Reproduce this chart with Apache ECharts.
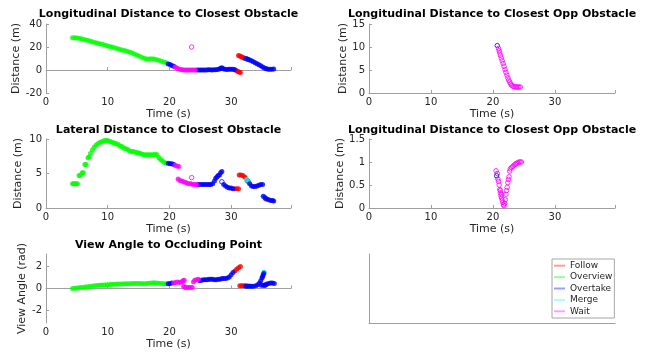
<!DOCTYPE html>
<html><head><meta charset="utf-8">
<script src="https://cdn.jsdelivr.net/npm/echarts@6/dist/echarts.min.js"></script>
<style>html,body{margin:0;padding:0;background:#fff}#c{width:654px;height:356px}</style>
</head><body><div id="c"></div>
<script>
// ---------- labels ----------
const modes = ['Follow', 'Overview', 'Overtake', 'Merge', 'Wait'];
const titles = [
  'Longitudinal Distance to Closest Obstacle',
  'Longitudinal Distance to Closest Opp Obstacle',
  'Lateral Distance to Closest Obstacle',
  'Longitudinal Distance to Closest Opp Obstacle',
  'View Angle to Occluding Point'
];
const yNames = ['Distance (m)', 'Distance (m)', 'Distance (m)', 'Distance (m)', 'View Angle (rad)'];
const xName = 'Time (s)';
const xTicks = [0, 10, 20, 30];
const angTicks = [-2, 0, 2];

// ---------- plot 1: longitudinal distance ----------
const lonOverview = [[4.3,28.0],[4.7,28.0],[5.1,27.8],[5.5,27.4],[5.9,26.9],[6.3,26.3],[6.7,25.8],[7.1,25.2],[7.5,24.6],[7.9,24.0],[8.3,23.4],[8.7,22.9],[9.1,22.3],[9.5,21.7],[9.9,21.1],[10.3,20.5],[10.7,19.9],[11.1,19.3],[11.5,18.7],[11.9,18.1],[12.3,17.5],[12.7,16.9],[13.1,16.3],[13.5,15.6],[13.9,14.9],[14.3,14.0],[14.7,13.1],[15.1,12.1],[15.5,11.1],[15.9,10.2],[16.3,9.6],[16.7,9.6],[17.1,9.7],[17.5,9.5],[17.9,9.0],[18.3,8.4],[18.7,7.7],[19.1,7.0],[19.5,6.2],[32.3,10.0],[32.6,9.5],[32.9,9.0]];
const lonOvertake = [[19.8,5.3],[20.1,4.7],[20.4,4.0],[20.7,3.3],[24.5,0.0],[24.8,0.0],[25.1,0.0],[25.4,-0.1],[25.7,0.0],[26.0,0.1],[26.3,0.2],[26.6,0.2],[26.9,0.1],[27.2,0.3],[27.5,0.3],[27.8,0.5],[28.1,0.8],[28.3,1.6],[28.5,1.9],[28.7,1.0],[29.0,0.6],[29.3,0.5],[29.6,0.6],[29.9,0.6],[30.2,0.7],[30.5,0.5],[32.4,9.9],[32.7,9.4],[33.0,8.7],[33.3,8.0],[33.6,7.1],[33.9,6.3],[34.2,5.4],[34.5,4.5],[34.8,3.6],[35.1,2.7],[35.4,1.8],[35.7,1.0],[36.0,0.7],[36.3,0.6],[36.6,0.6],[36.9,0.8]];
const lonFollow = [[30.7,0.0],[30.9,-0.6],[31.1,-1.2],[31.3,-1.8],[31.5,-2.2],[31.2,12.7],[31.4,12.2],[31.6,11.7],[31.8,11.1],[32.0,10.6],[32.2,10.2],[32.4,9.8],[32.7,9.4],[35.6,1.3]];
const lonMerge = [[32.5,9.7],[32.8,9.2],[35.5,1.5]];
const lonWait = [[20.9,2.6],[21.2,1.7],[21.5,0.9],[21.8,0.4],[22.1,0.2],[22.4,0.1],[22.7,0.1],[23.0,0.0],[23.3,0.1],[23.6,0.0],[23.9,0.0],[24.2,-0.1]];
const lonWaitStray = [[23.6,20.0]];

// ---------- plot 2: longitudinal distance to opp obstacle ----------
const oppOvertake = [[20.7,10.3]];
const oppWait = [[20.9,9.7],[21.0,9.2],[21.1,8.7],[21.2,8.2],[21.35,7.6],[21.5,7.0],[21.65,6.4],[21.8,5.8],[21.95,5.1],[22.1,4.5],[22.25,3.9],[22.4,3.3],[22.55,2.8],[22.7,2.4],[22.85,2.0],[23.0,1.7],[23.2,1.5],[23.4,1.35],[23.6,1.3],[23.8,1.3],[24.0,1.3],[24.2,1.3],[24.4,1.3]];

// ---------- plot 3: lateral distance ----------
const latOverview = [[4.3,3.5],[4.5,3.5],[4.7,3.5],[4.9,3.5],[5.1,3.5],[5.35,4.7],[5.55,4.7],[5.85,5.1],[6.05,5.1],[6.3,6.3],[6.5,6.3],[6.8,7.3],[7.0,7.4],[7.2,7.9],[7.5,8.4],[7.8,8.8],[8.1,9.1],[8.4,9.3],[8.7,9.5],[9.0,9.6],[9.3,9.7],[9.6,9.8],[9.9,9.8],[10.2,9.7],[10.5,9.6],[10.8,9.5],[11.1,9.4],[11.4,9.3],[11.7,9.2],[12.0,9.0],[12.3,8.9],[12.6,8.7],[12.9,8.6],[13.2,8.5],[13.5,8.3],[13.8,8.2],[14.1,8.2],[14.4,8.1],[14.7,8.0],[15.0,8.0],[15.3,7.9],[15.6,7.8],[15.9,7.7],[16.2,7.7],[16.5,7.7],[16.8,7.7],[17.1,7.7],[17.4,7.7],[17.7,7.8],[18.0,7.7],[18.3,7.3],[18.6,7.0],[18.9,6.8],[19.2,6.6],[19.5,6.5],[32.4,4.3],[32.7,3.9]];
const latOvertake = [[19.8,6.5],[20.1,6.4],[20.4,6.4],[20.7,6.3],[24.6,3.4],[24.9,3.4],[25.2,3.4],[25.5,3.4],[25.8,3.4],[26.1,3.4],[26.4,3.4],[26.7,3.4],[27.0,3.5],[27.3,3.9],[27.5,4.3],[27.7,4.5],[27.9,4.7],[28.1,4.8],[28.3,5.1],[28.5,5.3],[28.8,3.4],[29.1,3.2],[29.4,3.0],[29.7,2.9],[30.0,2.9],[30.3,2.8],[33.0,3.5],[33.3,3.2],[33.6,3.1],[33.9,3.1],[34.2,3.2],[34.5,3.3],[34.8,3.4],[35.1,3.4],[35.2,1.7],[35.5,1.5],[35.8,1.3],[36.1,1.2],[36.4,1.1],[36.7,1.1],[36.9,1.0]];
const latOvertakeStray = [[28.5,3.8]];
const latFollow = [[30.6,2.8],[30.9,2.8],[31.2,2.8],[31.3,4.8],[31.6,4.8],[31.9,4.7],[32.2,4.5],[32.6,4.0],[32.8,3.8],[35.6,1.3]];
const latMerge = [[32.5,4.1],[32.9,3.7],[35.4,1.6]];
const latWait = [[20.9,6.2],[21.2,6.1],[21.5,6.0],[21.4,4.2],[21.7,4.0],[22.0,3.9],[22.3,3.8],[22.6,3.7],[22.9,3.6],[23.2,3.5],[23.5,3.5],[23.8,3.4],[24.1,3.4],[24.4,3.4]];
const latWaitStray = [[23.6,4.4]];

// ---------- plot 4: second opp obstacle panel ----------
const opp2Overtake = [[20.6,0.70]];
const opp2Wait = [[20.5,0.81],[20.7,0.75],[20.8,0.63],[20.9,0.58],[21.0,0.50],[21.1,0.40],[21.2,0.33],[21.3,0.26],[21.4,0.22],[21.5,0.17],[21.6,0.12],[21.7,0.07],[21.8,0.05],[21.9,0.10],[22.0,0.18],[22.1,0.30],[22.2,0.38],[22.3,0.45],[22.4,0.55],[22.5,0.62],[22.6,0.68],[22.7,0.80],[22.8,0.85],[23.0,0.88],[23.2,0.90],[23.4,0.93],[23.6,0.95],[23.8,0.97],[24.0,0.98],[24.2,1.00],[24.4,1.00],[24.6,1.00],[21.2,0.38],[21.4,0.30]];

// ---------- plot 5: view angle ----------
const angOverview = [[4.3,0.0],[4.7,0.02],[5.1,0.05],[5.5,0.08],[5.9,0.1],[6.3,0.13],[6.7,0.16],[7.1,0.19],[7.5,0.22],[7.9,0.25],[8.3,0.27],[8.7,0.29],[9.1,0.31],[9.5,0.33],[9.9,0.35],[10.3,0.37],[10.7,0.38],[11.1,0.39],[11.5,0.4],[11.9,0.41],[12.3,0.42],[12.7,0.43],[13.1,0.44],[13.5,0.44],[13.9,0.45],[14.3,0.45],[14.7,0.46],[15.1,0.46],[15.5,0.45],[15.9,0.44],[16.3,0.45],[16.7,0.47],[17.1,0.5],[17.5,0.52],[17.9,0.5],[18.3,0.47],[18.7,0.45],[19.1,0.44],[19.5,0.43],[32.6,0.25],[33.0,0.2]];
const angOvertake = [[19.8,0.43],[20.1,0.45],[20.4,0.5],[24.9,0.7],[25.2,0.75],[25.5,0.8],[25.8,0.8],[26.1,0.8],[26.4,0.85],[26.7,0.85],[27.0,0.85],[27.3,0.8],[27.6,0.8],[27.9,0.85],[28.2,0.85],[28.5,0.9],[28.8,0.9],[29.1,0.9],[29.4,0.95],[29.7,1.05],[30.0,1.25],[30.3,1.45],[32.4,0.2],[32.7,0.2],[33.0,0.2],[33.3,0.2],[33.6,0.2],[34.0,0.25],[34.3,0.35],[34.6,0.5],[34.8,0.7],[35.0,0.95],[35.1,1.1],[35.2,1.25],[35.3,1.4],[34.9,0.3],[35.2,0.3],[35.4,0.3],[35.6,0.35],[35.8,0.4],[36.1,0.45],[36.4,0.5],[36.7,0.5],[37.0,0.45]];
const angFollow = [[30.6,1.6],[30.9,1.75],[31.2,1.9],[31.5,2.0],[31.4,0.25],[31.7,0.25],[32.0,0.25],[32.3,0.25],[35.5,0.3]];
const angMerge = [[32.8,0.25],[35.35,1.5]];
const angWait = [[20.7,0.5],[21.0,0.55],[21.3,0.6],[21.6,0.55],[21.9,0.6],[22.2,0.7],[22.4,0.75],[22.3,0.2],[22.5,0.1],[22.8,0.1],[23.1,0.1],[23.4,0.1],[23.7,0.1],[23.9,0.6],[24.1,0.75],[24.4,0.8],[24.7,0.85]];

// ---------- styling ----------
const FONT = 'DejaVu Sans';
const TXT = '#262626';
const AXC = '#a0a0a0';
const modeColor = { Follow: '#ff0000', Overview: '#00ff00', Overtake: '#0000ff', Merge: '#00ffff', Wait: '#ff00ff' };
const legendColor = { Follow: '#ff9c9c', Overview: '#98ff98', Overtake: '#9c9cff', Merge: '#a8ffff', Wait: '#ffa0ff' };

const grids = [
  { left: 46, top: 24, width: 245, height: 69 },
  { left: 369, top: 24, width: 246, height: 69 },
  { left: 46, top: 139, width: 245, height: 69 },
  { left: 369, top: 139, width: 246, height: 69 },
  { left: 46, top: 254, width: 245, height: 69 },
  { left: 369, top: 254, width: 246, height: 69 }
];
const yRanges = [
  { min: -20, max: 40, interval: 20 },
  { min: 0, max: 15, interval: 5 },
  { min: 0, max: 10, interval: 5 },
  { min: 0, max: 1.5, interval: 0.5 },
  { min: -Math.PI, max: Math.PI }
];
const yNameGaps = [23, 19, 22, 23, 18];
const titleTops = [9, 9, 125, 125, 240];

const xAxes = [], yAxes = [], titleList = [];
for (let i = 0; i < 6; i++) {
  const g = grids[i];
  const blank = i === 5;
  xAxes.push({
    type: 'value', gridIndex: i, min: 0, max: 39.7, interval: 10,
    name: blank ? '' : xName, nameLocation: 'middle', nameGap: 16,
    nameTextStyle: { color: TXT, fontSize: 11, fontFamily: FONT },
    axisLine: { show: true, lineStyle: { color: AXC, width: 1 } },
    axisTick: { show: !blank, inside: true, length: 3, lineStyle: { color: AXC } },
    axisLabel: { show: !blank, color: TXT, fontSize: 10, fontFamily: FONT, margin: 4,
      customValues: xTicks },
    splitLine: { show: false }
  });
  const yr = blank ? { min: 0, max: 1 } : yRanges[i];
  const ya = {
    type: 'value', gridIndex: i, min: yr.min, max: yr.max,
    name: blank ? '' : yNames[i], nameLocation: 'middle', nameGap: blank ? 0 : yNameGaps[i],
    nameTextStyle: { color: TXT, fontSize: 11, fontFamily: FONT },
    axisLine: { show: true, lineStyle: { color: AXC, width: 1 } },
    axisTick: { show: !blank, inside: true, length: 3, lineStyle: { color: AXC } },
    axisLabel: { show: !blank, color: TXT, fontSize: 10, fontFamily: FONT, margin: 4 },
    splitLine: { show: false }
  };
  if (yr.interval) ya.interval = yr.interval;
  if (i === 4) {
    ya.axisLabel.customValues = angTicks;
    ya.axisTick.customValues = angTicks;
  }
  yAxes.push(ya);
  if (!blank) {
    titleList.push({
      text: titles[i], left: g.left + g.width / 2, top: titleTops[i], textAlign: 'center', padding: 0,
      textStyle: { fontFamily: FONT, fontSize: 11, fontWeight: 'bold', color: '#000' }
    });
  }
}

function sc(name, data, gi, hollow) {
  return {
    type: 'scatter', name: name, data: data, xAxisIndex: gi, yAxisIndex: gi,
    symbol: 'circle', symbolSize: hollow ? 4.5 : 5, silent: true, animation: false,
    itemStyle: hollow
      ? { color: 'rgba(255,255,255,0)', borderColor: modeColor[name], borderWidth: 1 }
      : { color: modeColor[name] }
  };
}

const series = [
  sc('Overview', lonOverview, 0), sc('Follow', lonFollow, 0), sc('Merge', lonMerge, 0),
  sc('Overtake', lonOvertake, 0), sc('Wait', lonWait, 0), sc('Wait', lonWaitStray, 0, true),
  sc('Overtake', oppOvertake, 1, true), sc('Wait', oppWait, 1, true),
  sc('Overview', latOverview, 2), sc('Follow', latFollow, 2), sc('Merge', latMerge, 2),
  sc('Overtake', latOvertake, 2), sc('Overtake', latOvertakeStray, 2, true),
  sc('Wait', latWait, 2), sc('Wait', latWaitStray, 2, true),
  sc('Wait', opp2Wait, 3, true), sc('Overtake', opp2Overtake, 3, true),
  sc('Overview', angOverview, 4), sc('Follow', angFollow, 4), sc('Merge', angMerge, 4),
  sc('Overtake', angOvertake, 4), sc('Wait', angWait, 4)
];

const chart = echarts.init(document.getElementById('c'), null, { renderer: 'canvas' });
chart.setOption({
  backgroundColor: '#fff',
  animation: false,
  title: titleList,
  grid: grids,
  xAxis: xAxes,
  yAxis: yAxes,
  legend: {
    orient: 'vertical', left: 552, top: 259, padding: [1, 2, 1, 2],
    itemGap: 0, itemWidth: 11, itemHeight: 2, selectedMode: false,
    borderColor: '#a6a6a6', borderWidth: 1, backgroundColor: '#fff',
    itemStyle: { borderWidth: 0, opacity: 1 },
    textStyle: { color: TXT, fontSize: 9, fontFamily: FONT, lineHeight: 11.4 },
    data: modes.map(m => ({ name: m, icon: 'rect', itemStyle: { color: legendColor[m], borderWidth: 0, opacity: 1 } }))
  },
  series: series
});
</script>
</body></html>
